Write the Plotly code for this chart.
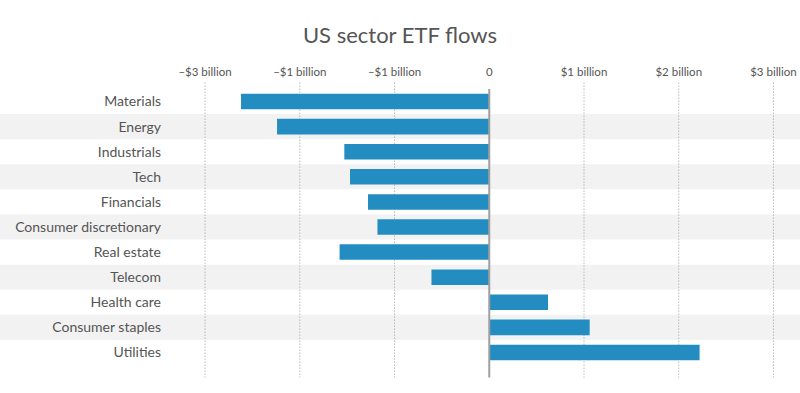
import plotly.graph_objects as go

sectors = ["Materials", "Energy", "Industrials", "Tech", "Financials",
           "Consumer discretionary", "Real estate", "Telecom", "Health care",
           "Consumer staples", "Utilities"]
flows = [-2.62, -2.24, -1.53, -1.47, -1.28, -1.18, -1.58, -0.61, 0.62, 1.06, 2.22]
tick_vals = [-3, -2, -1, 0, 1, 2, 3]
tick_text = ["\u2013$3 billion", "\u2013$1 billion", "\u2013$1 billion", "0",
             "$1 billion", "$2 billion", "$3 billion"]

FONT = "Lato, Open Sans, sans-serif"
GREY = "#555555"

fig = go.Figure()
fig.add_trace(go.Bar(
    x=flows, y=sectors, orientation="h",
    marker=dict(color="#238dc1", line=dict(width=0)),
    width=0.62, hoverinfo="x+y",
))

shapes = []
for i, s in enumerate(sectors):
    if i % 2 == 1:
        shapes.append(dict(type="rect", xref="paper", yref="y",
                           x0=-0.28, x1=1.0, y0=i - 0.5, y1=i + 0.5,
                           fillcolor="#f2f2f2", line=dict(width=0), layer="below"))
for v in tick_vals:
    if v == 0:
        continue
    shapes.append(dict(type="line", xref="x", yref="paper", x0=v, x1=v,
                       y0=1.023, y1=-0.045,
                       line=dict(color="#999999", width=1, dash="1px,2px"), layer="below"))
shapes.append(dict(type="line", xref="x", yref="paper", x0=0, x1=0,
                   y0=1.0, y1=-0.045,
                   line=dict(color="#a0a0a0", width=2), layer="above"))

fig.update_layout(
    width=800, height=393,
    margin=dict(l=170, r=0, t=89, b=28),
    paper_bgcolor="white", plot_bgcolor="rgba(0,0,0,0)",
    title=dict(text="US sector ETF flows", x=0.5, xanchor="center",
               y=0.91, yanchor="middle",
               font=dict(family=FONT, size=22, color=GREY)),
    font=dict(family=FONT, color=GREY),
    showlegend=False,
    shapes=shapes,
    xaxis=dict(range=[-3.37, 3.28], side="top", tickvals=tick_vals, ticktext=tick_text,
               showgrid=False, zeroline=False, showline=False, ticks="",
               tickfont=dict(size=11.5, color=GREY), ticklabelstandoff=10,
               fixedrange=True),
    yaxis=dict(categoryorder="array", categoryarray=sectors, autorange="reversed",
               showgrid=False, zeroline=False, showline=False, ticks="",
               tickfont=dict(size=14, color=GREY), ticklabelstandoff=8,
               fixedrange=True),
)

fig.write_html("out.html", config={"displayModeBar": False},
               post_script="document.body.style.margin='0';document.body.style.padding='0';")
